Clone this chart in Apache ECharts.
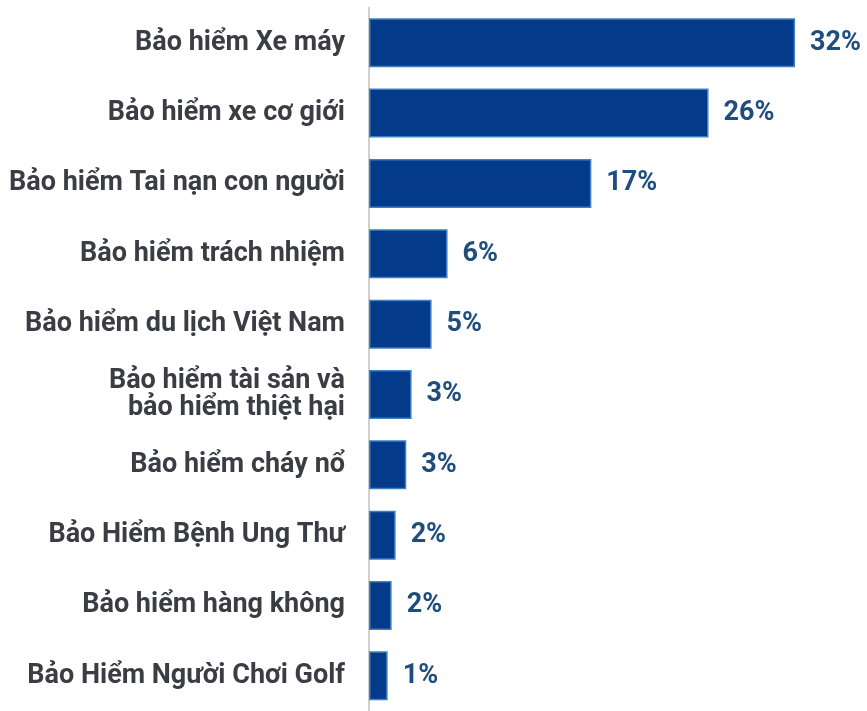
<!DOCTYPE html>
<html><head><meta charset="utf-8">
<script src="https://cdn.jsdelivr.net/npm/echarts@6/dist/echarts.min.js"></script>
<style>html,body{margin:0;padding:0;background:#fff}#c{width:867px;height:711px}</style>
</head><body><div id="c"></div>
<script>
var categories = [
  "Bảo hiểm Xe máy",
  "Bảo hiểm xe cơ giới",
  "Bảo hiểm Tai nạn con người",
  "Bảo hiểm trách nhiệm",
  "Bảo hiểm du lịch Việt Nam",
  "Bảo hiểm tài sản và\nbảo hiểm thiệt hại",
  "Bảo hiểm cháy nổ",
  "Bảo Hiểm Bệnh Ung Thư",
  "Bảo hiểm hàng không",
  "Bảo Hiểm Người Chơi Golf"
];
var values = [32, 25.5, 16.7, 5.9, 4.7, 3.2, 2.8, 2.0, 1.7, 1.4];

var chart = echarts.init(document.getElementById('c'));
chart.setOption({
  animation: false,
  grid: {left: 369, right: 32, top: 7.6, height: 708, containLabel: false},
  xAxis: {type: 'value', min: 0, max: 35, show: false},
  yAxis: {
    type: 'category', inverse: true, data: categories,
    axisLine: {show: true, lineStyle: {color: '#d0d0d0', width: 2}},
    axisTick: {show: false},
    axisLabel: {
      margin: 24, color: '#3a3d44', fontSize: 27, fontWeight: 'bold',
      fontFamily: 'Roboto', lineHeight: 27, align: 'right'
    }
  },
  series: [{
    type: 'bar', data: values, barWidth: 49,
    itemStyle: {color: '#033a8a', borderColor: '#3f7fc4', borderWidth: 1.5},
    label: {
      show: true, position: 'right', distance: 15,
      color: '#1f4e7e', fontSize: 27, fontWeight: 'bold', fontFamily: 'Roboto',
      formatter: function (p) { return Math.round(p.value) + '%'; }
    }
  }]
});
</script></body></html>
